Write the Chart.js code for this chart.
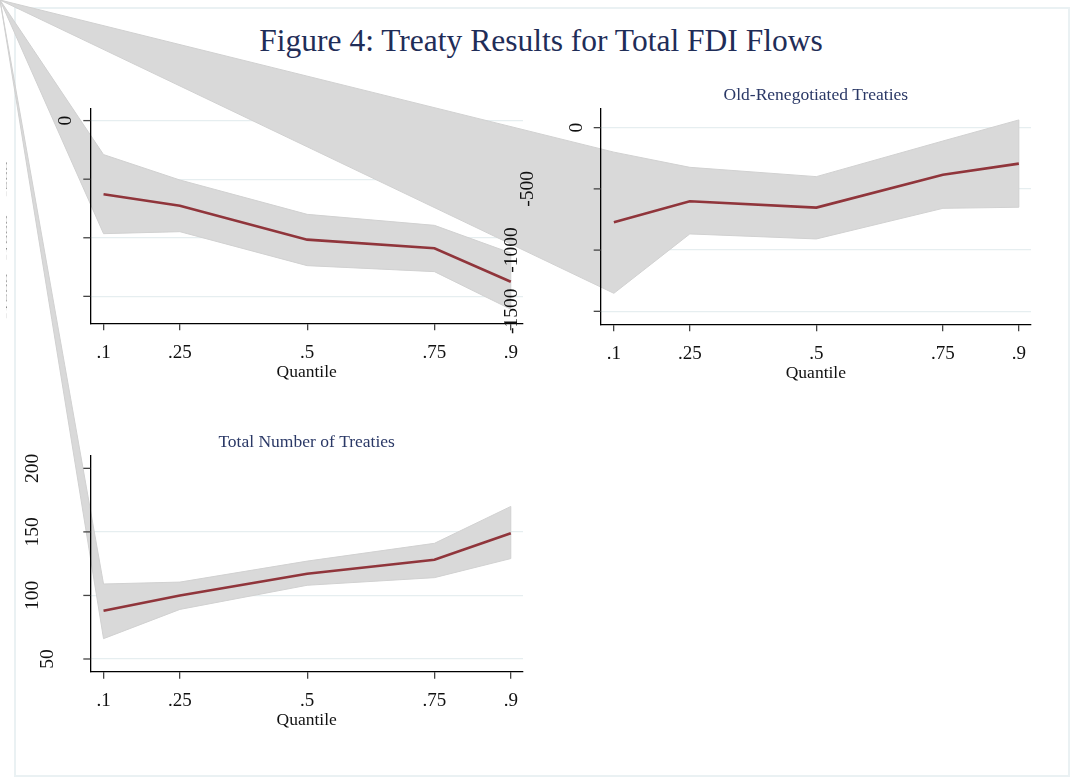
<!DOCTYPE html>
<html>
<head>
<meta charset="utf-8">
<script src="https://cdn.jsdelivr.net/npm/chart.js@4.4.1/dist/chart.umd.min.js"></script>
<style>
  html, body { margin: 0; padding: 0; background: #fff; }
  #page { position: relative; width: 1073px; height: 777px; overflow: hidden; background: #fff; }
  #frame { position: absolute; left: 14px; top: 7px; width: 1056px; height: 770px;
           border: 2px solid #eaf1f3; box-sizing: border-box; }
  #title { position: absolute; left: 541px; top: 24.6px; transform: translateX(-50%);
           font-family: "Liberation Serif", "Times New Roman", serif; font-size: 31.5px;
           line-height: 1; white-space: nowrap; color: #1f2d58; }
  canvas { position: absolute; left: 0; top: 0; }
</style>
</head>
<body>
<div id="page">
  <div id="frame"></div>
  <div id="title">Figure 4: Treaty Results for Total FDI Flows</div>
  <canvas id="panelA" width="1073" height="777" style="z-index:1"></canvas>
  <canvas id="panelC" width="1073" height="777" style="z-index:2"></canvas>
  <canvas id="panelB" width="1073" height="777" style="z-index:3"></canvas>
</div>
<script>
// Quantiles on the horizontal axis
const quantiles = [0.1, 0.25, 0.5, 0.75, 0.9];
const quantileLabels = ['.1', '.25', '.5', '.75', '.9'];

// Top-left panel: coefficient and confidence band
const flowCoef  = [-629, -726, -1016, -1090, -1375];
const flowUpper = [-290, -507, -800, -894, -1130];
const flowLower = [-965, -948, -1238, -1289, -1610];
const flowTicks = [0, -500, -1000, -1500];

// Old-Renegotiated Treaties
const renegCoef  = [-773, -601, -653, -384, -294];
const renegUpper = [-200, -324, -400, -109, 63];
const renegLower = [-1353, -868, -909, -659, -650];
const renegTicks = [0, -500, -1000, -1500];

// Total Number of Treaties
const totalCoef  = [88, 100, 117, 128, 149];
const totalUpper = [109, 110.5, 127, 141, 170];
const totalLower = [66, 89, 108, 114, 129];
const totalTicks = [50, 100, 150, 200];

const SERIF = '"Liberation Serif", "Times New Roman", serif';
const LINE_RED = '#90353b';
const BAND_GRAY = '#d9d9d9';
const GRID = '#e6eef0';

// Shaded interval: the fill path starts at the canvas corner before running
// along the upper bound and back along the lower bound.
const bandPlugin = {
  id: 'ciBand',
  beforeDatasetsDraw(chart, args, o) {
    const { ctx, scales: { x, y } } = chart;
    ctx.save();
    ctx.beginPath();
    ctx.moveTo(0, 0);
    o.upper.forEach((v, i) => ctx.lineTo(x.getPixelForValue(o.q[i]), y.getPixelForValue(v)));
    for (let i = o.lower.length - 1; i >= 0; i--) {
      ctx.lineTo(x.getPixelForValue(o.q[i]), y.getPixelForValue(o.lower[i]));
    }
    ctx.closePath();
    ctx.fillStyle = BAND_GRAY;
    ctx.fill();
    ctx.strokeStyle = '#d1d1d1';
    ctx.lineWidth = 1;
    ctx.stroke();
    ctx.restore();
  }
};

// Tick marks on the value axis, rotated value labels, quantile labels and titles
const axisTextPlugin = {
  id: 'axisText',
  afterDraw(chart, args, o) {
    const { ctx, chartArea: a, scales: { x, y } } = chart;
    ctx.save();
    ctx.strokeStyle = '#444';
    ctx.lineWidth = 1.3;
    y.ticks.forEach(t => {
      const py = y.getPixelForValue(t.value);
      ctx.beginPath();
      ctx.moveTo(a.left - 7, py);
      ctx.lineTo(a.left, py);
      ctx.stroke();
    });

    ctx.font = '19.5px ' + SERIF;
    ctx.textAlign = 'center';
    ctx.textBaseline = 'middle';
    y.ticks.forEach((t, i) => {
      const st = o.yLabelStyle[i];
      if (!st) return;
      const py = y.getPixelForValue(t.value);
      ctx.save();
      ctx.translate(a.left - st.dx, py);
      ctx.scale(st.sx, 1);
      ctx.rotate(-Math.PI / 2);
      ctx.fillStyle = st.color;
      ctx.fillText(String(t.value), 0, 0);
      ctx.restore();
    });

    ctx.fillStyle = '#111';
    ctx.font = '19px ' + SERIF;
    ctx.textBaseline = 'alphabetic';
    x.ticks.forEach((t, i) => {
      ctx.fillText(o.xLabels[i], x.getPixelForValue(t.value), a.bottom + 34.5);
    });

    const cx = (a.left + a.right) / 2;
    ctx.font = '17.5px ' + SERIF;
    ctx.fillText('Quantile', cx, a.bottom + 53.5);
    if (o.subtitle) {
      ctx.fillStyle = '#2a3866';
      ctx.fillText(o.subtitle, cx, a.top - 8.8);
    }
    ctx.restore();
  }
};

function makePanel(id, cfg) {
  const valueTicks = cfg.ticks;
  const noGrid = cfg.noGrid || [];
  return new Chart(document.getElementById(id), {
    type: 'line',
    data: {
      datasets: [{
        data: quantiles.map((q, i) => ({ x: q, y: cfg.coef[i] })),
        borderColor: LINE_RED,
        borderWidth: 2.6,
        pointRadius: 0,
        fill: false,
        tension: 0
      }]
    },
    options: {
      responsive: false,
      animation: false,
      devicePixelRatio: 1,
      layout: { padding: cfg.padding },
      plugins: {
        legend: { display: false },
        tooltip: { enabled: false },
        ciBand: { q: quantiles, upper: cfg.upper, lower: cfg.lower },
        axisText: { xLabels: quantileLabels, yLabelStyle: cfg.yLabelStyle, subtitle: cfg.subtitle }
      },
      scales: {
        x: {
          type: 'linear',
          min: 0.074, max: 0.924,
          afterBuildTicks: s => { s.ticks = quantiles.map(v => ({ value: v })); },
          afterFit: s => { s.height = 0; },
          ticks: { display: false },
          grid: { drawOnChartArea: false, drawTicks: true, tickLength: 7, color: '#444', lineWidth: 1.3 },
          border: { display: true, color: '#000', width: 1.3, z: 1 }
        },
        y: {
          type: 'linear',
          min: cfg.min, max: cfg.max,
          afterBuildTicks: s => { s.ticks = valueTicks.map(v => ({ value: v })); },
          afterFit: s => { s.width = 0; },
          ticks: { display: false },
          grid: {
            drawOnChartArea: true, drawTicks: false, lineWidth: 1.2, z: -1,
            color: c => (c.tick && noGrid.includes(c.tick.value)) ? 'rgba(0,0,0,0)' : GRID
          },
          border: { display: true, color: '#000', width: 1.3, z: 1 }
        }
      }
    },
    plugins: [bandPlugin, axisTextPlugin]
  });
}

const ink = '#111';
makePanel('panelA', {
  coef: flowCoef, upper: flowUpper, lower: flowLower, ticks: flowTicks,
  min: -1730, max: 105,
  padding: { left: 90.3, top: 108.3, right: 550, bottom: 453.7 },
  subtitle: null,
  yLabelStyle: [
    { dx: 24, sx: 1, color: ink },
    { dx: 84.3, sx: 0.1, color: '#888' },
    { dx: 84.3, sx: 0.1, color: '#888' },
    { dx: 84.3, sx: 0.1, color: '#888' }
  ]
});

makePanel('panelC', {
  coef: totalCoef, upper: totalUpper, lower: totalLower, ticks: totalTicks,
  min: 40, max: 209.7,
  padding: { left: 90.3, top: 456, right: 550, bottom: 105.3 },
  subtitle: 'Total Number of Treaties',
  noGrid: [200],
  yLabelStyle: [
    { dx: 42, sx: 1, color: ink },
    { dx: 57.5, sx: 1, color: ink },
    { dx: 57.5, sx: 1, color: ink },
    { dx: 57.5, sx: 1, color: ink }
  ]
});

makePanel('panelB', {
  coef: renegCoef, upper: renegUpper, lower: renegLower, ticks: renegTicks,
  min: -1606, max: 158,
  padding: { left: 600.7, top: 108.3, right: 42, bottom: 452.7 },
  subtitle: 'Old-Renegotiated Treaties',
  yLabelStyle: [
    { dx: 24, sx: 1, color: ink },
    { dx: 73, sx: 1, color: ink },
    { dx: 89, sx: 1, color: ink },
    { dx: 89, sx: 1, color: ink }
  ]
});
</script>
</body>
</html>
